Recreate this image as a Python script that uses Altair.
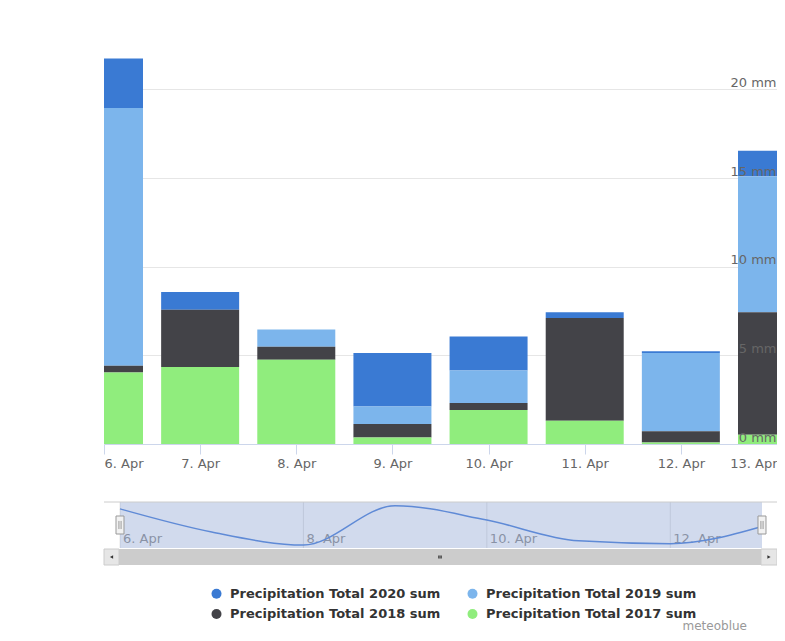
import altair as alt
import pandas as pd

# ---- data ----
days = [6, 7, 8, 9, 10, 11, 12, 13]
p2020 = [2.78, 1.00, 0.00, 3.02, 1.92, 0.32, 0.10, 1.43]
p2019 = [14.55, 0.00, 0.98, 0.98, 1.84, 0.00, 4.41, 7.68]
p2018 = [0.38, 3.23, 0.73, 0.77, 0.39, 5.80, 0.64, 6.91]
p2017 = [4.03, 4.34, 4.75, 0.36, 1.92, 1.31, 0.08, 0.52]
series_names = [
    "Precipitation Total 2020 sum",
    "Precipitation Total 2019 sum",
    "Precipitation Total 2018 sum",
    "Precipitation Total 2017 sum",
]
series_colors = ["#3a7ad3", "#7cb5ec", "#434348", "#90ed7d"]
stack_rank = [3, 2, 1, 0]
y_ticks = [0, 5, 10, 15, 20]
nav_ticks = [6, 8, 10, 12]
credit = "meteoblue"

rows = []
for name, vals, rank in zip(series_names, [p2020, p2019, p2018, p2017], stack_rank):
    for d, v in zip(days, vals):
        rows.append({"day": d, "series": name, "value": v, "rank": rank})
df = pd.DataFrame(rows)

W, H = 673, 390

# ---- main stacked column chart ----
x_scale = alt.Scale(domain=[days[0], days[-1]], nice=False, zero=False, padding=0)
x_main = alt.X(
    "day:Q", scale=x_scale,
    axis=alt.Axis(
        values=days, labelExpr="datum.value + '. Apr'", labelFlush=True,
        tickSize=10, tickColor="#ccd6eb", domainColor="#ccd6eb",
        labelColor="#666666", labelFontSize=13, labelPadding=3,
        grid=False, title=None,
    ),
)
y_scale = alt.Scale(domain=[0, 22], nice=False, padding=0)
order = alt.Order("rank:Q", sort="ascending")

bars = alt.Chart(df).mark_bar(size=78, clip=True).encode(
    x=x_main,
    order=order,
    y=alt.Y(
        "value:Q", stack="zero", scale=y_scale,
        axis=alt.Axis(orient="left", values=y_ticks, grid=True, gridColor="#e6e6e6",
                      labels=False, ticks=False, domain=False, title=None, minExtent=0),
    ),
    color=alt.Color(
        "series:N",
        scale=alt.Scale(domain=series_names, range=series_colors),
        legend=alt.Legend(
            title=None, orient="none", legendX=106, legendY=533, columns=2,
            direction="horizontal", symbolType="circle", symbolSize=100,
            symbolStrokeWidth=0, labelFontSize=13, labelFontWeight="bold",
            labelColor="#333333", labelLimit=0, columnPadding=25, rowPadding=6.5,
            labelOffset=7,
        ),
    ),
)

label_layer = alt.Chart(df).mark_bar(size=78, opacity=0, clip=True).encode(
    x=alt.X("day:Q", scale=x_scale, axis=None),
    order=order,
    detail="series:N",
    y=alt.Y(
        "value:Q", stack="zero", scale=y_scale,
        axis=alt.Axis(orient="right", values=y_ticks, grid=False,
                      labelExpr="datum.value + ' mm'", labelAlign="right",
                      labelPadding=-1, labelBaseline="alphabetic", labelOffset=-3,
                      labelColor="#666666", labelFontSize=13, ticks=False, tickSize=0,
                      domain=False, title=None, zindex=1, minExtent=0),
    ),
)

# ---- navigator (drawn below the plot, own scales) ----
NAV_TOP, NAV_BOT = 448, 494
nav_df = pd.DataFrame({"day": days, "value": p2020})
nav_x_scale = alt.Scale(domain=[5.8255, 13.1636], nice=False, zero=False, padding=0)
nav_x = alt.X("day:Q", scale=nav_x_scale, axis=None)
nav_y = alt.Y("value:Q", scale=alt.Scale(domain=[-0.23, 3.31], range=[NAV_BOT, NAV_TOP], nice=False, zero=False, padding=0), axis=None)

one = pd.DataFrame({"k": [0]})
tick_df = pd.DataFrame({"day": nav_ticks})
mask_df = pd.DataFrame({"day": [days[0]], "end": [days[-1]]})
handle_df = pd.DataFrame({"day": [days[0], days[-1]]})

nav_grid = alt.Chart(tick_df).mark_rule(color="#e6e6e6", strokeWidth=1).encode(
    x=nav_x, y=alt.value(NAV_TOP), y2=alt.value(NAV_BOT))
nav_labels = alt.Chart(tick_df).transform_calculate(lab="datum.day + '. Apr'").mark_text(
    align="left", baseline="alphabetic", dx=3, fontSize=13, color="#999999").encode(
    x=nav_x, y=alt.value(NAV_BOT - 5), text="lab:N")
mask = alt.Chart(mask_df).mark_rect(color="#6685c2", opacity=0.3).encode(
    x=nav_x, x2="end:Q", y=alt.value(NAV_TOP), y2=alt.value(NAV_BOT))
nav_line = alt.Chart(nav_df).mark_line(color="#5f8ad6", strokeWidth=1.5, interpolate="monotone").encode(
    x=nav_x, y=nav_y)
outline = alt.Chart(one).mark_rule(color="#cccccc", strokeWidth=1).encode(
    x=alt.value(0), x2=alt.value(W), y=alt.value(NAV_TOP))
HC = NAV_TOP + 23
handles = alt.Chart(handle_df).mark_point(
    shape="M-0.444,-1L0.444,-1L0.444,1L-0.444,1Z", size=324, filled=True,
    fill="#f2f2f2", stroke="#999999", strokeWidth=1, opacity=1,
).encode(x=nav_x, y=alt.value(HC))
handle_lines = alt.Chart(handle_df).mark_point(
    shape="M-0.12,-0.45L-0.12,0.45M0.12,-0.45L0.12,0.45", size=324, filled=False,
    stroke="#999999", strokeWidth=1, opacity=1,
).encode(x=nav_x, y=alt.value(HC))

S0, S1 = NAV_BOT + 1, NAV_BOT + 17
SC = (S0 + S1) / 2
TH0, TH1 = 15, W - 16
track = alt.Chart(one).mark_rect(color="#f2f2f2").encode(
    x=alt.value(0), x2=alt.value(W), y=alt.value(S0), y2=alt.value(S1))
thumb = alt.Chart(one).mark_rect(color="#cccccc").encode(
    x=alt.value(TH0), x2=alt.value(TH1), y=alt.value(S0), y2=alt.value(S1))
btn_l = alt.Chart(one).mark_rect(color="#e6e6e6", stroke="#cccccc", strokeWidth=1).encode(
    x=alt.value(0), x2=alt.value(TH0), y=alt.value(S0), y2=alt.value(S1))
btn_r = alt.Chart(one).mark_rect(color="#e6e6e6", stroke="#cccccc", strokeWidth=1).encode(
    x=alt.value(TH1), x2=alt.value(W), y=alt.value(S0), y2=alt.value(S1))
arr_l = alt.Chart(one).mark_point(shape="triangle-left", size=14, filled=True, color="#333333", opacity=1).encode(
    x=alt.value(TH0 / 2), y=alt.value(SC))
arr_r = alt.Chart(one).mark_point(shape="triangle-right", size=14, filled=True, color="#333333", opacity=1).encode(
    x=alt.value((TH1 + W) / 2), y=alt.value(SC))
grip = alt.Chart(one).mark_point(
    shape="M-0.5,-0.6L-0.5,0.6M0,-0.6L0,0.6M0.5,-0.6L0.5,0.6", size=25, filled=False,
    stroke="#333333", strokeWidth=1, opacity=1,
).encode(x=alt.value((TH0 + TH1) / 2), y=alt.value(SC))
credit_text = alt.Chart(one).mark_text(align="right", baseline="alphabetic", fontSize=12, color="#999999").encode(
    x=alt.value(643), y=alt.value(576), text=alt.value(credit))

chart = alt.layer(
    bars, label_layer,
    nav_grid, nav_labels, mask, nav_line, outline, handles, handle_lines,
    track, thumb, btn_l, btn_r, arr_l, arr_r, grip, credit_text,
).resolve_scale(x="independent", y="independent").resolve_axis(
    x="independent", y="independent"
).properties(
    width=W, height=H,
    autosize=alt.AutoSizeParams(type="none"),
    padding={"left": 96, "top": 46, "right": 0, "bottom": 189},
).configure(font="DejaVu Sans").configure_view(stroke=None)

chart.save("out.html", embed_options={"renderer": "svg", "actions": False})
